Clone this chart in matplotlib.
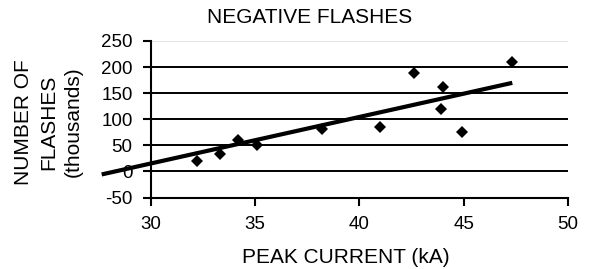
import matplotlib
matplotlib.use("Agg")
import matplotlib.pyplot as plt

# Data
peak_current = [32.2, 33.3, 34.2, 35.1, 38.2, 41.0, 42.6, 44.0, 43.9, 44.9, 47.3]
num_flashes = [20, 34, 60, 50, 82, 85, 189, 162, 119, 76, 210]
trend_x = [27.65, 47.33]
trend_y = [-5.8, 169.8]
x_ticks = [30, 35, 40, 45, 50]
y_ticks = [-50, 0, 50, 100, 150, 200, 250]

plt.rcParams['font.family'] = ['Liberation Sans', 'DejaVu Sans']
plt.rcParams['axes.unicode_minus'] = False

W, H = 592, 269
fig = plt.figure(figsize=(W / 100, H / 100), dpi=100)
ax = fig.add_axes([150.7 / W, 1 - 197.5 / H, (568 - 150.7) / W, (197.5 - 41) / H])

ax.set_xlim(30, 50)
ax.set_ylim(-50, 250)
ax.set_xticks(x_ticks)
ax.set_yticks(y_ticks)

for yv in y_ticks[1:-1]:
    ax.axhline(yv, color='black', lw=1.4, zorder=1)
ax.axhline(y_ticks[-1], color='#e6e6e6', lw=0.8, zorder=1)

ax.plot(trend_x, trend_y, color='black', lw=3.0, solid_capstyle='butt',
        clip_on=False, zorder=3)
ax.plot(peak_current, num_flashes, linestyle='none', marker='D', markersize=6.2,
        color='black', markeredgewidth=0, zorder=4)

for s in ['top', 'right']:
    ax.spines[s].set_visible(False)
for s in ['left', 'bottom']:
    ax.spines[s].set_linewidth(1.5)
    ax.spines[s].set_color('black')

ax.tick_params(axis='both', direction='out', length=6, width=1.5, labelsize=13.5)
ax.tick_params(axis='x', pad=7)
ax.tick_params(axis='y', pad=7)

fig.text(412 / W, 1 - 17.5 / H, 'NEGATIVE FLASHES', ha='right', va='center', fontsize=15)
fig.text(346 / W, 1 - 257.5 / H, 'PEAK CURRENT (kA)', ha='center', va='center', fontsize=15)

for xc, txt in [(23.5, 'NUMBER OF'), (48.5, 'FLASHES'), (73.5, '(thousands)')]:
    fig.text(xc / W, 1 - 122 / H, txt, rotation=90, ha='center', va='center', fontsize=15)

fig.savefig('out.png', dpi=100)
